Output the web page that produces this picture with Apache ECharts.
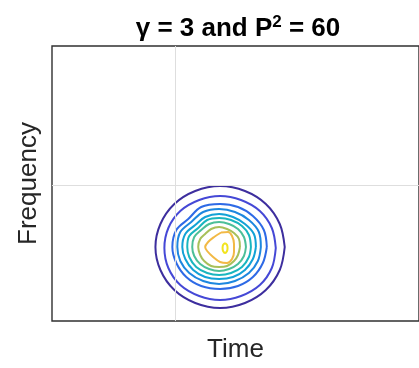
<!DOCTYPE html>
<html><head><meta charset="utf-8">
<script src="https://cdn.jsdelivr.net/npm/echarts@6/dist/echarts.min.js"></script>
<style>html,body{margin:0;padding:0;background:#fff}#c{width:419px;height:368px}</style>
</head><body><div id="c"></div><script>
// Axis ranges (arbitrary time / frequency units; grid lines at 0)
const timeRange = [-12.4, 24.5];
const freqRange = [-13.6, 13.9];
const gridTime = [0];
const gridFreq = [0];
const axisNames = ['Time', 'Frequency'];

// Contour levels, outermost (lowest) to innermost (highest)
const levelColors = ['#3d2e9e', '#4548d6', '#2e6ae6', '#1d87df', '#12a2d6', '#19b6bf', '#4cbf98', '#a8c05a', '#f2b945', '#f2e41e'];

const contour1 = [[11.0,-6.2],[10.5,-3.9],[9.1,-1.9],[7.0,-0.6],[4.5,-0.1],[2.0,-0.6],[-0.1,-1.9],[-1.5,-3.9],[-2.0,-6.2],[-1.5,-8.5],[-0.1,-10.5],[2.0,-11.8],[4.5,-12.3],[7.0,-11.8],[9.1,-10.5],[10.5,-8.5]];
const contour2 = [[10.1,-6.3],[9.7,-4.3],[8.5,-2.6],[6.6,-1.5],[4.5,-1.1],[2.4,-1.5],[0.5,-2.6],[-0.7,-4.3],[-1.1,-6.3],[-0.7,-8.3],[0.5,-10.0],[2.4,-11.1],[4.5,-11.5],[6.6,-11.1],[8.5,-10.0],[9.7,-8.3]];
const contour3 = [[9.2,-6.2],[8.9,-4.5],[7.8,-3.1],[6.3,-2.2],[4.5,-1.9],[2.6,-2.2],[1.3,-3.4],[0.1,-4.5],[-0.3,-6.2],[0.1,-7.8],[1.1,-9.2],[2.6,-10.1],[4.5,-10.4],[6.3,-10.1],[7.8,-9.2],[8.8,-7.8]];
const contour4 = [[8.6,-6.2],[8.4,-4.7],[7.4,-3.5],[6.0,-2.7],[4.4,-2.4],[2.8,-2.7],[1.6,-3.7],[0.5,-4.7],[0.2,-6.2],[0.5,-7.6],[1.4,-8.8],[2.8,-9.6],[4.4,-9.9],[6.0,-9.6],[7.4,-8.8],[8.3,-7.6]];
const contour5 = [[8.1,-6.2],[7.9,-4.9],[7.0,-3.9],[5.8,-3.2],[4.4,-2.9],[3.0,-3.2],[2.0,-4.0],[1.0,-4.9],[0.7,-6.2],[1.0,-7.4],[1.8,-8.5],[3.0,-9.2],[4.4,-9.4],[5.8,-9.2],[7.0,-8.5],[7.8,-7.4]];
const contour6 = [[7.6,-6.2],[7.4,-5.0],[6.7,-4.1],[5.6,-3.5],[4.4,-3.3],[3.2,-3.5],[2.3,-4.3],[1.4,-5.1],[1.2,-6.2],[1.4,-7.2],[2.1,-8.2],[3.2,-8.8],[4.4,-9.0],[5.6,-8.8],[6.7,-8.2],[7.4,-7.2]];
const contour7 = [[7.1,-6.2],[6.9,-5.2],[6.3,-4.4],[5.4,-3.9],[4.4,-3.7],[3.4,-3.9],[2.6,-4.5],[1.9,-5.2],[1.7,-6.2],[1.9,-7.1],[2.5,-7.9],[3.4,-8.4],[4.4,-8.6],[5.4,-8.4],[6.3,-7.9],[6.9,-7.1]];
const contour8 = [[6.5,-6.2],[6.4,-5.4],[5.9,-4.8],[5.2,-4.4],[4.4,-4.2],[3.6,-4.4],[3.0,-4.9],[2.5,-5.4],[2.3,-6.2],[2.5,-7.0],[2.9,-7.6],[3.6,-8.1],[4.4,-8.2],[5.2,-8.1],[5.9,-7.6],[6.3,-7.0]];
const contour9 = [[4.6,-4.75],[5.3,-4.7],[5.7,-5.1],[5.9,-5.9],[5.9,-6.7],[5.7,-7.4],[5.2,-7.8],[4.5,-7.7],[3.8,-7.2],[3.2,-6.6],[3.0,-6.2],[3.3,-5.7],[3.9,-5.2]];
const contour10 = [[5.0,-5.8],[5.2,-6.0],[5.25,-6.3],[5.2,-6.6],[5.0,-6.8],[4.8,-6.6],[4.75,-6.3],[4.8,-6.0]];
const contours = [contour1, contour2, contour3, contour4, contour5, contour6, contour7, contour8, contour9, contour10];

const chart = echarts.init(document.getElementById('c'), null, {renderer: 'canvas'});
const series = [{
  type: 'line', data: [], silent: true, z: 1,
  markLine: {
    silent: true, symbol: ['none', 'none'], label: {show: false},
    lineStyle: {color: '#dedede', width: 1, type: 'solid'},
    animation: false,
    data: gridTime.map(v => ({xAxis: v})).concat(gridFreq.map(v => ({yAxis: v})))
  }
}];
contours.forEach((c, i) => {
  series.push({
    type: 'line', data: c.concat([c[0]]), showSymbol: false, smooth: 0.35,
    silent: true, z: 2,
    lineStyle: {color: levelColors[i], width: 2}
  });
});

chart.setOption({
  animation: false,
  title: {
    text: '{a|γ = 3 and P}{s|2}{a| = 60}',
    left: 233, top: 9, textAlign: 'center',
    textStyle: {
      rich: {
        a: {fontFamily: 'Liberation Sans', fontWeight: 'bold', fontSize: 26, color: '#000', lineHeight: 30},
        s: {fontFamily: 'Liberation Sans', fontWeight: 'bold', fontSize: 17, color: '#000', lineHeight: 16, verticalAlign: 'top'}
      }
    }
  },
  grid: {left: 52, right: -2, top: 46, bottom: 47, show: true, borderColor: '#303030', borderWidth: 1.4, backgroundColor: '#fff'},
  xAxis: {
    type: 'value', min: timeRange[0], max: timeRange[1],
    name: axisNames[0], nameLocation: 'middle', nameGap: 16,
    nameTextStyle: {fontFamily: 'Liberation Sans', fontSize: 26, color: '#262626'},
    axisLine: {show: false}, axisTick: {show: false}, axisLabel: {show: false}, splitLine: {show: false}
  },
  yAxis: {
    type: 'value', min: freqRange[0], max: freqRange[1],
    name: axisNames[1], nameLocation: 'middle', nameGap: 10,
    nameTextStyle: {fontFamily: 'Liberation Sans', fontSize: 26, color: '#262626'},
    axisLine: {show: false}, axisTick: {show: false}, axisLabel: {show: false}, splitLine: {show: false}
  },
  series: series
});
</script></body></html>
